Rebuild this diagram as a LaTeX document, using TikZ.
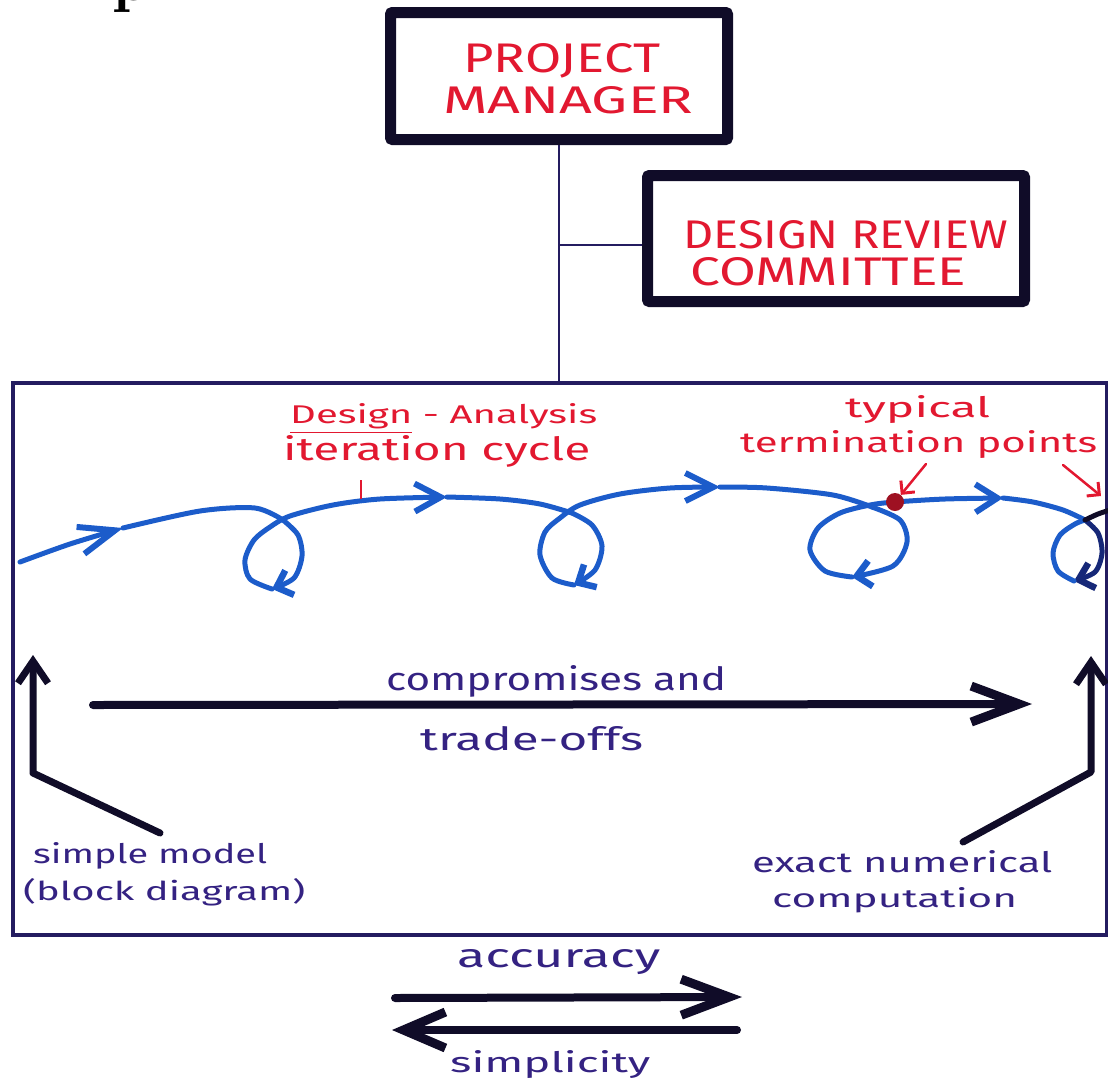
\documentclass[tikz,border=0pt]{standalone}
\usepackage{fontspec}
\newfontfamily\hand{Fira Sans}
\usetikzlibrary{arrows.meta}

\definecolor{inkred}{RGB}{226,24,48}
\definecolor{inknavy}{RGB}{52,34,130}
\definecolor{inkblue}{RGB}{28,92,202}
\definecolor{inkdeep}{RGB}{22,40,120}
\definecolor{inkblack}{RGB}{16,12,40}
\definecolor{framecol}{RGB}{36,28,96}

% hand-lettered label stretched to a given width and height (in pt)
\newcommand{\handtext}[3]{\resizebox{#1pt}{#2pt}{\hand #3}}

\begin{document}
\begin{tikzpicture}[x=1pt,y=-1pt,
  rolebox/.style={draw=inkblack, line width=11pt, rounded corners=2pt, fill=white, inner sep=0pt},
  boxlbl/.style={anchor=base west, inner sep=0pt, text=inkred},
  tie/.style={draw=framecol, line width=2.5pt},
  loopline/.style={draw=inkblue, line width=5pt, line cap=round, line join=round},
  bigtip/.style={-{Straight Barb[length=#1pt,width=28pt,line width=6pt]}},
  looptip/.style={-{Straight Barb[length=14pt,width=26pt,line width=6.5pt]}},
  redlbl/.style={anchor=base west, inner sep=0pt, text=inkred},
  navylbl/.style={anchor=base west, inner sep=0pt, text=inknavy},
  pointer/.style={draw=inkred, line width=2.5pt, line cap=round, -{Straight Barb[length=9pt,width=18pt,line width=3pt]}},
  fat/.style={draw=inkblack, line width=8pt, line cap=round, -{Straight Barb[length=#1pt,width=36pt,line width=9pt]}},
  elbow/.style={draw=inkblack, line width=7pt, line cap=round, line join=round, -{Straight Barb[length=22pt,width=30pt,line width=7pt]}},
]
\useasboundingbox (0,0) rectangle (1108,1082);
\clip (0,0) rectangle (1108,1082);

% cut-off heading glyph at the top edge
\node[anchor=base west, inner sep=0pt, font=\fontsize{62}{62}\selectfont\bfseries] (headp) at (112,0) {p};

% organisation boxes
\node[rolebox, minimum width=337pt, minimum height=127pt] (pm) at (559,76) {};
\node[boxlbl] (pm1) at (463,72) {\handtext{197}{29}{PROJECT}};
\node[boxlbl] (pm2) at (443,113) {\handtext{250}{27}{MANAGER}};
\node[rolebox, minimum width=377pt, minimum height=126pt] (drc) at (836,238.5) {};
\node[boxlbl] (drc1) at (683,248) {\handtext{325}{28}{DESIGN REVIEW}};
\node[boxlbl] (drc2) at (690,285) {\handtext{276}{28}{COMMITTEE}};

% design frame
\node[draw=framecol, line width=4pt, minimum width=1094pt, minimum height=552pt, inner sep=0pt] (frame) at (560,659) {};

% reporting lines
\draw[tie] (pm.south) -- (pm.south |- frame.north);
\coordinate (junction) at (559,245);
\draw[tie] (junction) -- (junction -| drc.west);

% design-analysis iteration curve: approach, loop, next pass ...
\draw[loopline, bigtip=36] plot[smooth] coordinates {(20,562) (70,544) (123,528)};
\draw[loopline] plot[smooth] coordinates {(123,528) (200,511) (255,508) (283,520)};
\draw[loopline, looptip] plot[smooth] coordinates {(283,520) (298,535) (302,556) (294,578) (272,589)};
\draw[loopline, bigtip=26] plot[smooth] coordinates {(272,589) (250,579) (245,560) (254,540) (270,527) (290,516) (333,505) (380,499) (447,497)};
\draw[loopline] plot[smooth] coordinates {(447,497) (500,499) (540,504) (572,513)};
\draw[loopline, looptip] plot[smooth] coordinates {(572,513) (592,525) (602,546) (595,570) (574,585)};
\draw[loopline, bigtip=28] plot[smooth] coordinates {(574,585) (552,578) (540,555) (545,532) (560,518) (580,505) (620,494) (670,488) (720,487)};
\draw[loopline] plot[smooth] coordinates {(720,487) (767,488) (833,495) (872,507)};
\draw[loopline, looptip] plot[smooth] coordinates {(872,507) (900,520) (907,542) (893,566) (852,577)};
\draw[loopline, bigtip=22] plot[smooth] coordinates {(852,577) (825,571) (810,550) (818,528) (840,513) (870,505) (895,502) (945,499) (1003,498)};
\draw[loopline] plot[smooth] coordinates {(1003,498) (1033,502) (1063,510) (1085,520)};
\draw[loopline, draw=inkdeep, looptip] plot[smooth] coordinates {(1085,520) (1098,533) (1102,553) (1095,572) (1074,581)};
\draw[loopline] plot[smooth] coordinates {(1074,581) (1058,571) (1053,553) (1060,535) (1075,524) (1085,520)};
\draw[loopline, draw=inkblack] plot[smooth] coordinates {(1085,520) (1098,514) (1110,510)};
\node[circle, fill=inkred!70!black, minimum size=18pt, inner sep=0pt] (dot) at (895,502) {};

% red annotations
\node[redlbl] (tdesign) at (290,423) {\handtext{307}{20}{\underline{Design} - Analysis}};
\node[redlbl] (titer) at (283,460) {\handtext{307}{25}{iteration cycle}};
\coordinate (tick1) at (361,480);
\coordinate (tick2) at (361,499);
\draw[draw=inkred, line width=2.5pt] (tick1) -- (tick2);
\node[redlbl] (ttyp) at (845,417) {\handtext{145}{22}{typical}};
\node[redlbl] (tterm) at (740,452) {\handtext{357}{22}{termination points}};
\coordinate (tp1) at (926,464);
\draw[pointer] (tp1) -- (dot);
\coordinate (tp2) at (1063,465);
\coordinate (tp2end) at (1101,496);
\draw[pointer] (tp2) -- (tp2end);

% compromise axis
\coordinate (ca) at (93,705);
\coordinate (cb) at (1032,704);
\draw[fat=48] (ca) -- (cb);
\node[navylbl] (tcomp) at (386,690) {\handtext{340}{25}{compromises and}};
\node[navylbl] (ttrade) at (420,750) {\handtext{223}{24}{trade-offs}};

% extremes of the modelling range
\coordinate (l0) at (160,833);
\coordinate (l1) at (33,773);
\coordinate (l2) at (33,655);
\draw[elbow] (l0) -- (l1) -- (l2);
\coordinate (r0) at (963,842);
\coordinate (r1) at (1091,772);
\coordinate (r2) at (1091,656);
\draw[elbow] (r0) -- (r1) -- (r2);
\node[navylbl] (tsimple) at (33,863) {\handtext{234}{21}{simple model}};
\node[navylbl] (tblock) at (23,900) {\handtext{282}{22}{(block diagram)}};
\node[navylbl] (texact) at (752,872) {\handtext{300}{22}{exact numerical}};
\node[navylbl] (tcompu) at (772,907) {\handtext{245}{20}{computation}};

% accuracy versus simplicity
\coordinate (a0) at (395,998);
\coordinate (a1) at (742,997);
\draw[fat=48] (a0) -- (a1);
\coordinate (s0) at (737,1030);
\coordinate (s1) at (392,1030);
\draw[fat=42] (s0) -- (s1);
\node[navylbl] (tacc) at (457,967) {\handtext{203}{18}{accuracy}};
\node[navylbl] (tsimp) at (450,1072) {\handtext{200}{22}{simplicity}};
\end{tikzpicture}
\end{document}
